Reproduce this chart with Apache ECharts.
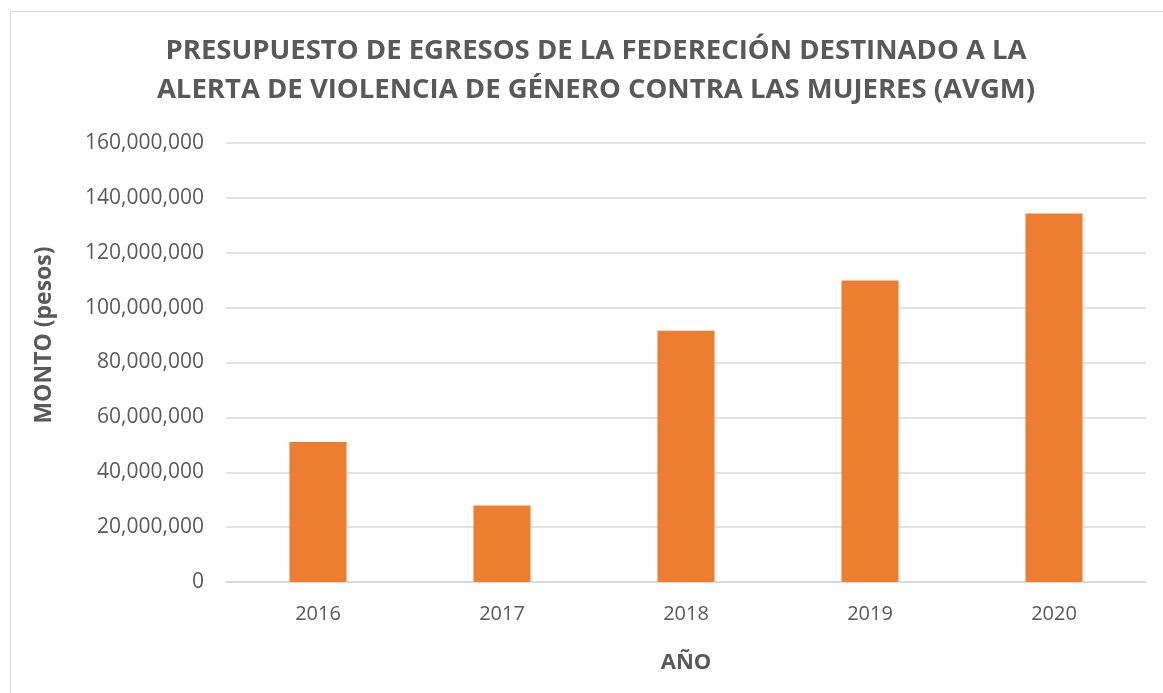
<!DOCTYPE html>
<html>
<head>
<meta charset="utf-8">
<script src="https://cdn.jsdelivr.net/npm/echarts@6/dist/echarts.min.js"></script>
<style>
html,body{margin:0;padding:0;background:#fff;}
#frame{position:absolute;left:10px;top:11px;width:1160px;height:690px;border:1px solid #d9d9d9;box-sizing:border-box;}
#chart{position:absolute;left:0;top:0;width:1163px;height:693px;}
</style>
</head>
<body>
<div id="frame"></div>
<div id="chart"></div>
<script>
const categories = ['2016','2017','2018','2019','2020'];
const montos = [51000000, 27900000, 91600000, 109900000, 134300000];
const titleLines = ['PRESUPUESTO DE EGRESOS DE LA FEDERECIÓN DESTINADO A LA','ALERTA DE VIOLENCIA DE GÉNERO CONTRA LAS MUJERES (AVGM)'];
const yAxisName = 'MONTO (pesos)';
const xAxisName = 'AÑO';

const chart = echarts.init(document.getElementById('chart'), null, {renderer:'canvas'});
const font = '"Open Sans", "Liberation Sans", sans-serif';
chart.setOption({
  backgroundColor: 'transparent',
  animation: false,
  grid: {left: 226, right: 17, top: 143, bottom: 111, containLabel: false},
  xAxis: {
    type: 'category',
    data: categories,
    name: xAxisName,
    nameLocation: 'middle',
    nameGap: 70,
    nameTextStyle: {fontFamily: font, fontWeight: 'bold', fontSize: 22, color: '#595959'},
    axisLine: {show: true, lineStyle: {color: '#d9d9d9', width: 1.5}},
    axisTick: {show: false},
    axisLabel: {fontFamily: font, fontSize: 20, color: '#595959', margin: 22}
  },
  yAxis: {
    type: 'value',
    min: 0, max: 160000000, interval: 20000000,
    axisLine: {show: false},
    axisTick: {show: false},
    splitLine: {lineStyle: {color: '#d9d9d9', width: 1.5}},
    axisLabel: {
      fontFamily: font, fontSize: 21, color: '#595959', margin: 22,
      formatter: v => v.toLocaleString('en-US')
    }
  },
  graphic: [{
    type: 'text',
    x: 596, y: 31.5,
    style: {
      text: titleLines.join('\n'),
      fontFamily: font, fontWeight: 'bold', fontSize: 27.5, fill: '#595959',
      lineHeight: 39, textAlign: 'center', textVerticalAlign: 'top'
    }
  }, {
    type: 'text',
    x: 44, y: 335,
    rotation: Math.PI / 2,
    style: {
      text: yAxisName,
      fontFamily: font, fontWeight: 'bold', fontSize: 23, fill: '#595959',
      textAlign: 'center', textVerticalAlign: 'middle'
    }
  }],
  series: [{
    type: 'bar',
    data: montos,
    barWidth: '31%',
    itemStyle: {color: '#ED7D31'}
  }]
});
</script>
</body>
</html>
